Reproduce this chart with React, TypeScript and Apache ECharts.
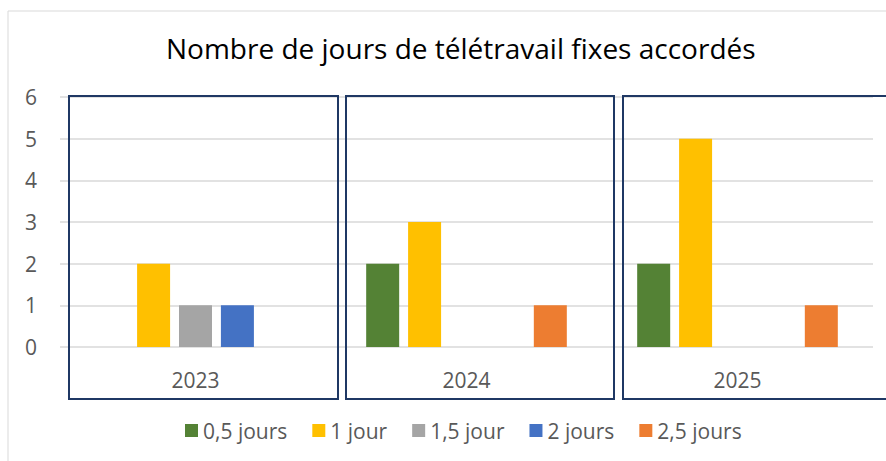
import React, { useEffect, useRef } from "react";
import * as echarts from "echarts";

const categories = ["2023", "2024", "2025"];
const seriesNames = ["0,5 jours", "1 jour", "1,5 jour", "2 jours", "2,5 jours"];
const halfDay = [0, 2, 2];
const oneDay = [2, 3, 5];
const oneHalfDay = [1, 0, 0];
const twoDays = [1, 0, 0];
const twoHalfDays = [0, 1, 1];
const colors = ["#548235", "#FFC000", "#A5A5A5", "#4472C4", "#ED7D31"];
const yTicks = [0, 1, 2, 3, 4, 5, 6];

export default function App() {
  const ref = useRef<HTMLDivElement>(null);
  useEffect(() => {
    document.body.style.margin = "0";
    const chart = echarts.init(ref.current!, null, { renderer: "svg" });
    const values = [halfDay, oneDay, oneHalfDay, twoDays, twoHalfDays];
    const font = "'Open Sans', 'Noto Sans', sans-serif";
    const boxStyle = { fill: "none", stroke: "#1F3864", lineWidth: 2 };
    chart.setOption({
      animation: false,
      backgroundColor: "#FFFFFF",
      title: {
        text: "Nombre de jours de télétravail fixes accordés",
        left: 161,
        top: 29,
        textStyle: { fontFamily: font, fontSize: 28, fontWeight: "normal", color: "#000000" },
      },
      grid: { left: 60, right: 13, top: 97, bottom: 114 },
      legend: {
        data: seriesNames,
        bottom: 15,
        left: 180,
        itemWidth: 13,
        itemHeight: 13,
        itemGap: 25,
        icon: "rect",
        textStyle: { fontFamily: font, fontSize: 21, color: "#595959" },
      },
      xAxis: {
        type: "category",
        data: categories,
        axisLine: { show: false },
        axisTick: { show: false },
        axisLabel: { margin: 22, fontFamily: font, fontSize: 21, color: "#595959" },
      },
      yAxis: {
        type: "value",
        min: yTicks[0],
        max: yTicks[yTicks.length - 1],
        interval: 1,
        axisLine: { show: false },
        axisTick: { show: false },
        axisLabel: { margin: 23, fontFamily: font, fontSize: 21, color: "#595959" },
        splitLine: { lineStyle: { color: "#D9D9D9", width: 1.5 } },
      },
      graphic: [
        { type: "rect", shape: { x: 8, y: 11, width: 900, height: 470 }, style: { fill: "none", stroke: "#D9D9D9", lineWidth: 1 }, silent: true },
        { type: "rect", shape: { x: 69, y: 96, width: 269, height: 303 }, style: boxStyle, z: 10, silent: true },
        { type: "rect", shape: { x: 346, y: 96, width: 268, height: 303 }, style: boxStyle, z: 10, silent: true },
        { type: "rect", shape: { x: 623, y: 96, width: 280, height: 303 }, style: boxStyle, z: 10, silent: true },
      ],
      series: seriesNames.map((name, i) => ({
        name,
        type: "bar",
        data: values[i],
        barWidth: 33,
        barGap: "27%",
        itemStyle: { color: colors[i] },
      })),
    });
    return () => chart.dispose();
  }, []);
  return <div ref={ref} style={{ width: 886, height: 461 }} />;
}
